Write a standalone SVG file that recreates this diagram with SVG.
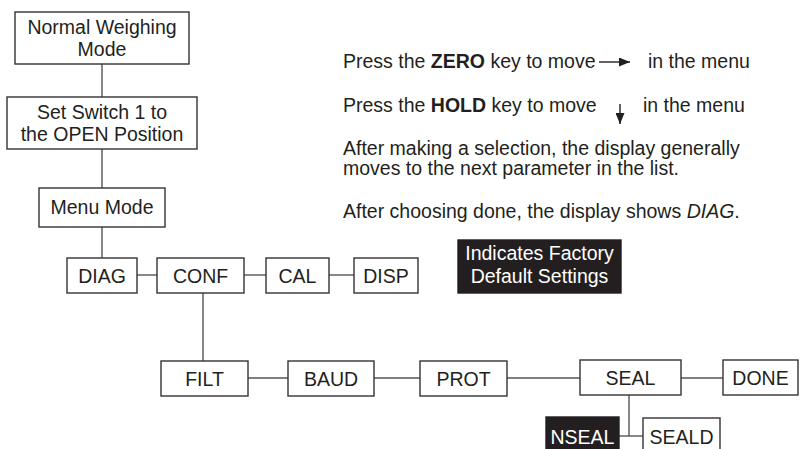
<svg xmlns="http://www.w3.org/2000/svg" width="807" height="449" viewBox="0 0 807 449">
<defs>
<style>
.box{fill:#fff;stroke:#333;stroke-width:1.4}
.inv{fill:#231f20;stroke:#231f20;stroke-width:1.4}
.t{font-family:"Liberation Sans",Arial,sans-serif;font-size:19.5px;fill:#231f20;text-anchor:middle}
.ti{font-family:"Liberation Sans",Arial,sans-serif;font-size:19.5px;fill:#fff;text-anchor:middle}
.n{font-family:"Liberation Sans",Arial,sans-serif;font-size:19.5px;fill:#231f20}
.c{stroke:#555;stroke-width:1.4;fill:none}
.a{stroke:#231f20;stroke-width:1.4;fill:none}
</style>
<marker id="ah" viewBox="0 0 11 9" refX="11" refY="4.5" markerWidth="11" markerHeight="9" markerUnits="userSpaceOnUse" orient="auto">
<path d="M0,0 L11,4.5 L0,9 Z" fill="#231f20"/>
</marker>
</defs>
<rect width="807" height="449" fill="#fff"/>

<g id="connectors">
<line class="c" x1="102" y1="64" x2="102" y2="97"/>
<line class="c" x1="102" y1="149" x2="102" y2="188"/>
<line class="c" x1="102" y1="227" x2="102" y2="258"/>
<line class="c" x1="137" y1="275" x2="157" y2="275"/>
<line class="c" x1="244" y1="275" x2="266" y2="275"/>
<line class="c" x1="329" y1="275" x2="354" y2="275"/>
<line class="c" x1="203" y1="293" x2="203" y2="361"/>
<line class="c" x1="248" y1="378" x2="288" y2="378"/>
<line class="c" x1="374" y1="378" x2="420" y2="378"/>
<line class="c" x1="507" y1="378" x2="580" y2="378"/>
<line class="c" x1="681" y1="378" x2="723" y2="378"/>
<line class="c" x1="629" y1="395" x2="629" y2="436"/>
<line class="c" x1="619" y1="436" x2="643" y2="436"/>
</g>

<g id="normal">
<rect class="box" x="15" y="12" width="174" height="52"/>
<text class="t" x="102" y="34">Normal Weighing</text>
<text class="t" x="102" y="56">Mode</text>
</g>
<g id="switch">
<rect class="box" x="7" y="97" width="190" height="52"/>
<text class="t" x="102" y="119">Set Switch 1 to</text>
<text class="t" x="102" y="141">the OPEN Position</text>
</g>
<g id="menu">
<rect class="box" x="39" y="188" width="126" height="39"/>
<text class="t" x="102" y="214">Menu Mode</text>
</g>
<g id="diag">
<rect class="box" x="67" y="258" width="70" height="35"/>
<text class="t" x="102" y="283">DIAG</text>
</g>
<g id="conf">
<rect class="box" x="157" y="258" width="87" height="35"/>
<text class="t" x="200.5" y="283">CONF</text>
</g>
<g id="cal">
<rect class="box" x="266" y="258" width="63" height="35"/>
<text class="t" x="297.5" y="283">CAL</text>
</g>
<g id="disp">
<rect class="box" x="354" y="258" width="64" height="35"/>
<text class="t" x="386" y="283">DISP</text>
</g>
<g id="filt">
<rect class="box" x="161" y="361" width="87" height="35"/>
<text class="t" x="204.5" y="386">FILT</text>
</g>
<g id="baud">
<rect class="box" x="288" y="361" width="86" height="35"/>
<text class="t" x="331" y="386">BAUD</text>
</g>
<g id="prot">
<rect class="box" x="420" y="361" width="87" height="35"/>
<text class="t" x="463.5" y="386">PROT</text>
</g>
<g id="seal">
<rect class="box" x="580" y="360" width="101" height="35"/>
<text class="t" x="630.5" y="385">SEAL</text>
</g>
<g id="done">
<rect class="box" x="723" y="360" width="75" height="35"/>
<text class="t" x="760.5" y="385">DONE</text>
</g>
<g id="nseal">
<rect class="inv" x="546" y="417" width="73" height="40"/>
<text class="ti" x="582.5" y="444">NSEAL</text>
</g>
<g id="seald">
<rect class="box" x="643" y="418" width="77" height="40"/>
<text class="t" x="681.5" y="444">SEALD</text>
</g>

<g id="legend">
<rect class="inv" x="458" y="240" width="163" height="53"/>
<text class="ti" x="539.5" y="260">Indicates Factory</text>
<text class="ti" x="539.5" y="283">Default Settings</text>
</g>

<g id="notes">
<text class="n" x="343" y="68">Press the <tspan font-weight="bold">ZERO</tspan> key to move</text>
<line class="a" x1="599" y1="62" x2="630" y2="62" marker-end="url(#ah)"/>
<text class="n" x="648" y="68">in the menu</text>
<text class="n" x="343" y="112">Press the <tspan font-weight="bold">HOLD</tspan> key to move</text>
<line class="a" x1="620" y1="104" x2="620" y2="124" marker-end="url(#ah)"/>
<text class="n" x="643" y="112">in the menu</text>
<text class="n" x="343" y="155">After making a selection, the display generally</text>
<text class="n" x="343" y="175">moves to the next parameter in the list.</text>
<text class="n" x="343" y="218">After choosing done, the display shows <tspan font-style="italic">DIAG</tspan>.</text>
</g>
</svg>
